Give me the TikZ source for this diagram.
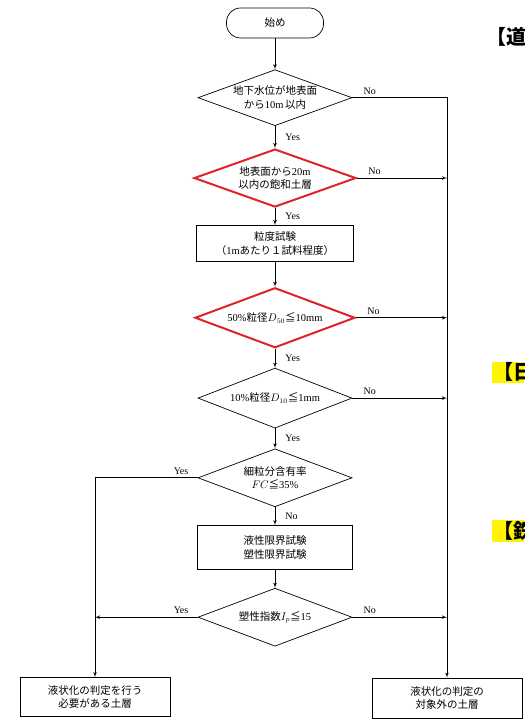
\documentclass[tikz,border=0pt]{standalone}
\usepackage{fontspec}
\setmainfont{Liberation Serif}
\newfontfamily\cjk{Noto Sans CJK JP}
\usetikzlibrary{arrows, positioning, shapes.geometric}

\newcommand{\jp}[1]{{\cjk #1}}
\definecolor{decred}{RGB}{222,35,45}
\definecolor{marker}{RGB}{255,243,0}

\begin{document}
\begin{tikzpicture}[line width=0.7pt, >=latex',
	every node/.style={font=\fontsize{10.5}{13.5}\selectfont},
	term/.style={draw, rounded corners=14pt, minimum width=97pt, minimum height=30pt},
	dec/.style={draw, diamond, aspect=2.7, inner sep=0pt, align=center, minimum width=154pt, minimum height=56pt},
	decred/.style={dec, draw=decred, line width=2pt, minimum width=162pt, minimum height=58pt},
	proc/.style={draw, rectangle, align=center, minimum width=155pt, minimum height=36pt},
	lab/.style={font=\fontsize{10}{12}\selectfont, inner sep=1pt},
	nolab/.style={lab, pos=0, anchor=south west, xshift=10pt, yshift=2pt},
	yeslab/.style={lab, pos=0, anchor=south east, xshift=-8pt, yshift=2pt},
	tag/.style={font=\fontsize{20}{22}\selectfont\cjk\bfseries, inner sep=1pt, anchor=west}]

\path [use as bounding box, clip] (0,0) rectangle (524pt,-719pt);

% main column
\node [term] (start) at (275pt,-23pt) {\jp{始め}};

\node [dec, below=31pt of start] (water) {
	\jp{地下水位が地表面} \\
	\jp{から}10m\,\jp{以内}};

\node [decred, below=22pt of water] (sat) {
	\jp{地表面から}20m \\
	\jp{以内の飽和土層}};

\node [proc, minimum width=157pt, below=17pt of sat] (grain) {
	\jp{粒度試験} \\
	\jp{（}1m\jp{あたり１試料程度）}};

\node [decred, minimum width=160pt, minimum height=60pt, below=25pt of grain] (dfifty) {
	50\%\jp{粒径}$D_{50}$\jp{≦}10mm};

\node [dec, minimum height=60pt, below=19pt of dfifty] (dten) {
	10\%\jp{粒径}$D_{10}$\jp{≦}1mm};

\node [dec, minimum height=58pt, below=20pt of dten] (fines) {
	\jp{細粒分含有率} \\
	$FC$\jp{≦}35\%};

\node [proc, minimum height=44pt, below=18pt of fines] (limit) {
	\jp{液性限界試験} \\
	\jp{塑性限界試験}};

\node [dec, minimum height=58pt, below=18pt of limit] (plast) {
	\jp{塑性指数}$I_p$\jp{≦}15};

% results
\node [proc, minimum width=150pt, minimum height=39pt] (need) at (95pt,-697pt) {
	\jp{液状化の判定を行う} \\
	\jp{必要がある土層}};

\node [proc, minimum width=150pt, minimum height=40pt] (out) at (447pt,-698pt) {
	\jp{液状化の判定の} \\
	\jp{対象外の土層}};

% cut-off headings at the right edge
\node [tag] (road) at (485pt,-37pt) {【道};
\node [tag, fill=marker] (japan) at (492pt,-372pt) {【日};
\node [tag, fill=marker] (rail) at (492pt,-531pt) {【鉄};

\path [draw, ->] (start)  edge (water);
\path [draw, ->] (water)  edge node [lab, right=9pt] {Yes} (sat);
\path [draw, ->] (sat)    edge node [lab, right=9pt] {Yes} (grain);
\path [draw, ->] (grain)  edge (dfifty);
\path [draw, ->] (dfifty) edge node [lab, right=9pt] {Yes} (dten);
\path [draw, ->] (dten)   edge node [lab, right=9pt] {Yes} (fines);
\path [draw, ->] (fines)  edge node [lab, right=9pt] {No} (limit);
\path [draw, ->] (limit)  edge (plast);

\draw [->] (water.east) -- node [nolab] {No} (water.east -| out.north) -- (out.north);
\draw [->] (sat.east) -- node [nolab] {No} (sat.east -| out.north);
\draw [->] (dfifty.east) -- node [nolab] {No} (dfifty.east -| out.north);
\draw [->] (dten.east) -- node [nolab] {No} (dten.east -| out.north);
\draw [->] (plast.east) -- node [nolab] {No} (plast.east -| out.north);

\draw [->] (fines.west) -- node [yeslab] {Yes} (fines.west -| need.north) -- (need.north);
\draw [->] (plast.west) -- node [yeslab] {Yes} (plast.west -| need.north);

\end{tikzpicture}
\end{document}
